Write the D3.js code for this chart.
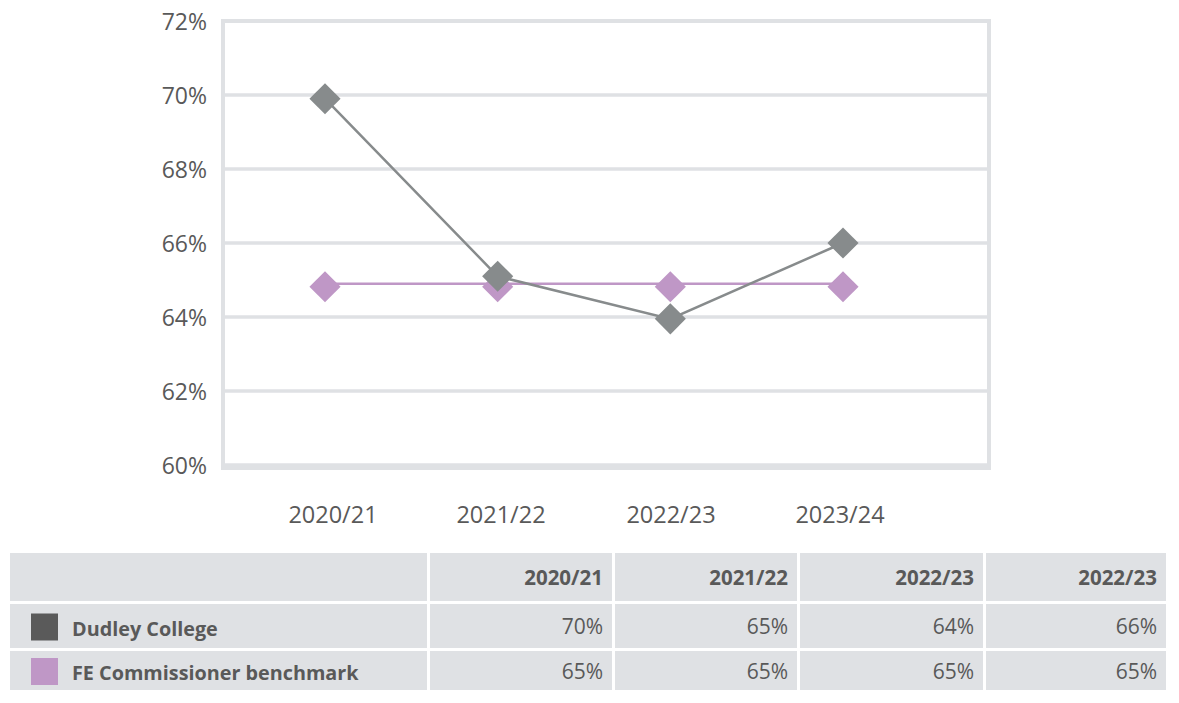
<!DOCTYPE html>
<html>
<head>
<meta charset="utf-8">
<script src="https://cdn.jsdelivr.net/npm/d3@7"></script>
<style>
html,body{margin:0;padding:0;background:#fff;}
svg{display:block;}
</style>
</head>
<body>
<svg id="chart" width="1179" height="703"></svg>
<script>
const categories = ["2020/21", "2021/22", "2022/23", "2023/24"];
const dudley = [0.699, 0.651, 0.6395, 0.660];
const benchmark = [0.649, 0.649, 0.649, 0.649];
const yTicks = [0.60, 0.62, 0.64, 0.66, 0.68, 0.70, 0.72];
const tableHeaders = ["", "2020/21", "2021/22", "2022/23", "2022/23"];
const seriesNames = ["Dudley College", "FE Commissioner benchmark"];
const dudleyLabels = ["70%", "65%", "64%", "66%"];
const benchmarkLabels = ["65%", "65%", "65%", "65%"];

const svg = d3.select("#chart");
const font = "'Open Sans', 'DejaVu Sans', sans-serif";
const textCol = "#595959";
const gridCol = "#dfe1e4";
const grayCol = "#878b8c";
const purpleCol = "#bf97c6";

const plot = {left: 223, right: 989, top: 21, bottom: 465};
const y = d3.scaleLinear().domain([0.60, 0.72]).range([plot.bottom, plot.top]);
const x = d3.scalePoint().domain(categories).range([325, 843]);

// gridlines
svg.append("g").selectAll("line").data(yTicks).join("line")
  .attr("x1", plot.left).attr("x2", plot.right)
  .attr("y1", d => y(d)).attr("y2", d => y(d))
  .attr("stroke", gridCol).attr("stroke-width", 3.5);
// frame
svg.append("rect").attr("x", plot.left).attr("y", plot.top)
  .attr("width", plot.right - plot.left).attr("height", plot.bottom + 3 - plot.top)
  .attr("fill", "none").attr("stroke", gridCol).attr("stroke-width", 4);

// y axis labels
const yAxis = d3.axisLeft(y).tickValues(yTicks).tickFormat(d3.format(".0%")).tickSize(0).tickPadding(0);
const yg = svg.append("g").attr("transform", `translate(207,0)`).call(yAxis);
yg.select(".domain").remove();
yg.selectAll("text").attr("font-family", font).attr("font-size", 23).attr("fill", textCol).attr("dy", "0.35em");

// x axis labels
const xLabelCenters = [333, 501, 671, 840];
const xAxis = d3.axisBottom(x).tickSize(0).tickPadding(0);
const xg = svg.append("g").attr("transform", `translate(0,515)`).call(xAxis);
xg.select(".domain").remove();
xg.selectAll("text").attr("font-family", font).attr("font-size", 23.5).attr("fill", textCol).attr("dy", "0.35em");
xg.selectAll(".tick").attr("transform", (d, i) => `translate(${xLabelCenters[i]},0)`);

const line = d3.line().x((d, i) => x(categories[i])).y(d => y(d));
const diamond = d3.symbol().type(d3.symbolSquare).size(22 * 22);

// benchmark series
svg.append("path").datum(benchmark).attr("d", line)
  .attr("fill", "none").attr("stroke", purpleCol).attr("stroke-width", 2.5);
svg.append("g").selectAll("path").data(benchmark).join("path")
  .attr("d", diamond)
  .attr("transform", (d, i) => `translate(${x(categories[i])},${y(d) + 3}) rotate(45)`)
  .attr("fill", purpleCol);

// dudley series
svg.append("path").datum(dudley).attr("d", line)
  .attr("fill", "none").attr("stroke", grayCol).attr("stroke-width", 2.5);
svg.append("g").selectAll("path").data(dudley).join("path")
  .attr("d", diamond)
  .attr("transform", (d, i) => `translate(${x(categories[i])},${y(d)}) rotate(45)`)
  .attr("fill", grayCol);

// table
const colX = [10, 430, 615, 800, 986, 1169];
const rowY = [553, 604, 651, 693];
const cellBg = "#dfe1e4";
const tbl = svg.append("g");
const rows = [
  {cells: tableHeaders, bold: true},
  {cells: [seriesNames[0]].concat(dudleyLabels), swatch: "#5a5a5a"},
  {cells: [seriesNames[1]].concat(benchmarkLabels), swatch: purpleCol}
];
rows.forEach((r, ri) => {
  const y0 = rowY[ri], y1 = rowY[ri + 1] - 3;
  r.cells.forEach((c, ci) => {
    const x0 = colX[ci], x1 = colX[ci + 1] - 3;
    tbl.append("rect").attr("x", x0).attr("y", y0).attr("width", x1 - x0).attr("height", y1 - y0).attr("fill", cellBg);
    const cy = (y0 + y1) / 2 + 1;
    if (ci === 0) {
      if (r.swatch) {
        tbl.append("rect").attr("x", 31).attr("y", cy - 13.5).attr("width", 27).attr("height", 27).attr("fill", r.swatch);
        tbl.append("text").attr("x", 72).attr("y", cy + 2).attr("dy", "0.35em")
          .attr("font-family", font).attr("font-weight", 700).attr("font-size", 19.8).attr("fill", textCol).text(c);
      }
    } else {
      tbl.append("text").attr("x", x1 - 9).attr("y", cy).attr("dy", "0.35em").attr("text-anchor", "end")
        .attr("font-family", font).attr("font-weight", r.bold ? 700 : 400).attr("font-size", r.bold ? 20.5 : 21).attr("fill", textCol).text(c);
    }
  });
});
</script>
</body>
</html>
